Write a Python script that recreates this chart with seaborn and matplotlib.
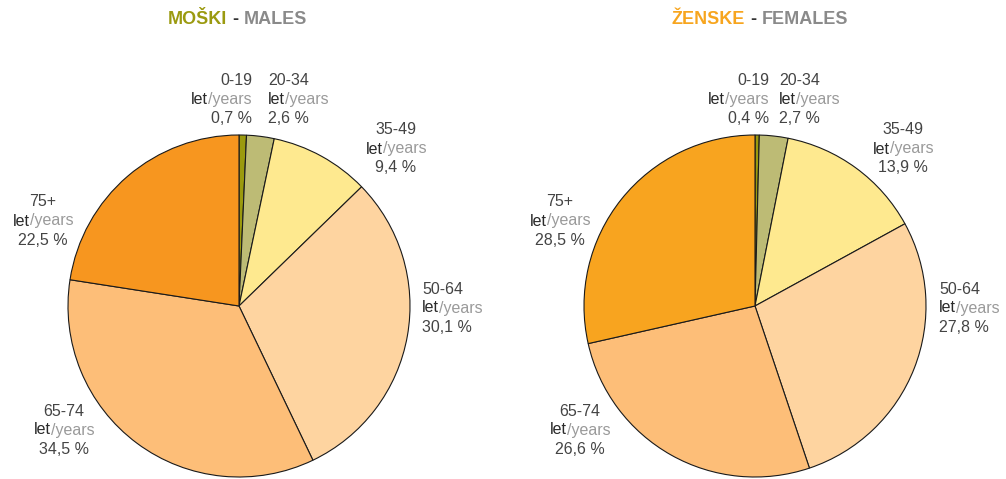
import matplotlib
matplotlib.use('Agg')
import seaborn as sns
import matplotlib.pyplot as plt

sns.set_style('white')
plt.rcParams['font.family'] = ['Liberation Sans', 'DejaVu Sans']

# data
age_groups = ['0-19', '20-34', '35-49', '50-64', '65-74', '75+']
males = [0.7, 2.6, 9.4, 30.1, 34.5, 22.5]
females = [0.4, 2.7, 13.9, 27.8, 26.6, 28.5]

male_colors = ['#9b9a0d', '#bdbb75', '#fee98f', '#fed4a0', '#fdbe78', '#f7961f']
female_colors = ['#9b9a0d', '#bdbb75', '#fee98f', '#fed4a0', '#fdbe78', '#f8a41f']

DARK = '#444444'
LIGHT = '#9a9a9a'
FS = 11.5
LINE = 19

W, H = 1006, 479
fig = plt.figure(figsize=(W / 100, H / 100), dpi=100)
renderer = fig.canvas.get_renderer()

# full-figure axes in pixel coordinates for all text
bg = fig.add_axes([0, 0, 1, 1])
bg.set_xlim(0, W)
bg.set_ylim(H, 0)
bg.axis('off')


def text_width(s, **kw):
    t = bg.text(0, 0, s, **kw)
    w = t.get_window_extent(renderer=renderer).width
    t.remove()
    return w


def draw_pie(cx, cy, r, values, colors):
    pad = 1.01
    ax = fig.add_axes([(cx - r * pad) / W, (H - cy - r * pad) / H, 2 * r * pad / W, 2 * r * pad / H])
    ax.pie(values, colors=colors, startangle=90, counterclock=False,
           wedgeprops={'edgecolor': '#1a1a1a', 'linewidth': 0.8})
    ax.set_xlim(-pad, pad)
    ax.set_ylim(-pad, pad)
    ax.set_aspect('equal')
    ax.axis('off')


def label(x, y, group, value, ha):
    bg.text(x, y, group, ha=ha, va='center', color=DARK, size=FS)
    w = text_width('let/years', size=FS)
    w1 = text_width('let', size=FS)
    start = {'left': x, 'center': x - w / 2, 'right': x - w}[ha]
    bg.text(start, y + LINE, 'let', ha='left', va='center', color='#2a2a2a', size=FS)
    bg.text(start + w1, y + LINE, '/years', ha='left', va='center', color=LIGHT, size=FS)
    pct = f'{value:.1f}'.replace('.', ',') + ' %'
    bg.text(x, y + 2 * LINE, pct, ha=ha, va='center', color=DARK, size=FS)


def title(x, y, first, second, first_color):
    kw = dict(va='center', ha='left', size=13, weight='bold')
    w1 = text_width(first + ' ', **kw)
    w2 = text_width('- ', **kw)
    bg.text(x, y, first, color=first_color, **kw)
    bg.text(x + w1, y, '-', color='#333333', **kw)
    bg.text(x + w1 + w2, y, second, color='#8a8a8a', **kw)


draw_pie(239, 306, 171, males, male_colors)
draw_pie(755, 306, 171, females, female_colors)

title(168, 19, 'MOŠKI', 'MALES', '#9b9a10')
title(672, 19, 'ŽENSKE', 'FEMALES', '#f7a51e')

# label anchors (x, top line y, alignment) per age group
male_pos = [(252, 80, 'right'), (268, 80, 'left'), (396, 130, 'center'),
            (422, 289, 'left'), (64, 411, 'center'), (43, 202, 'center')]
female_pos = [(769, 80, 'right'), (779, 80, 'left'), (903, 130, 'center'),
              (939, 289, 'left'), (580, 411, 'center'), (560, 202, 'center')]

for g, v, (x, y, ha) in zip(age_groups, males, male_pos):
    label(x, y, g, v, ha)
for g, v, (x, y, ha) in zip(age_groups, females, female_pos):
    label(x, y, g, v, ha)

fig.savefig('out.png', dpi=100)
